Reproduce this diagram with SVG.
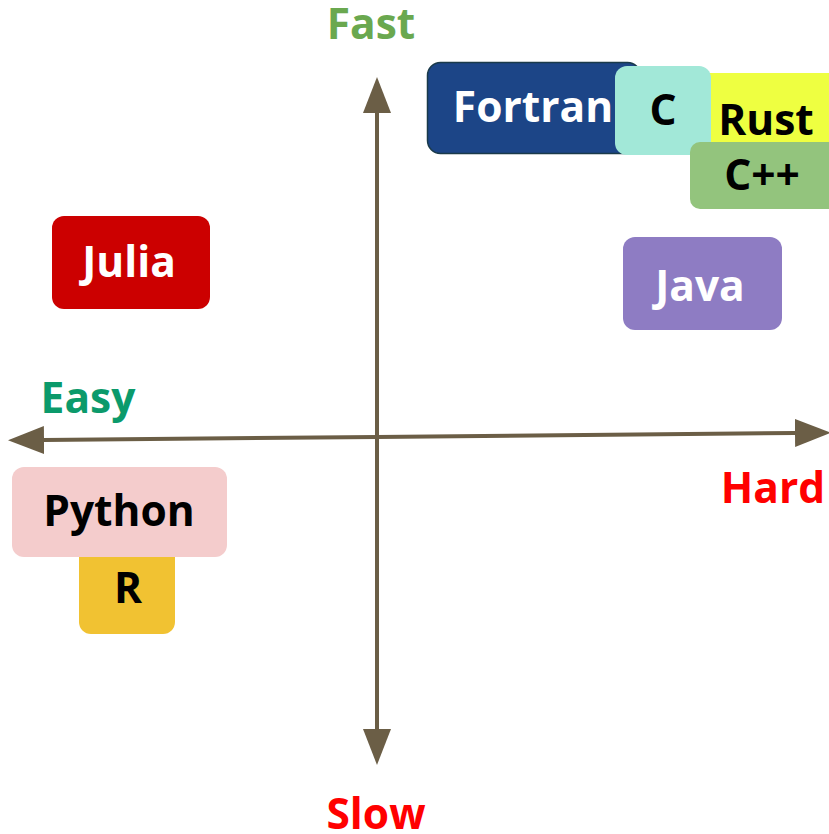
<svg xmlns="http://www.w3.org/2000/svg" width="829" height="834" viewBox="0 0 829 834">
  <style>
    .lbl { font-family: "Open Sans", "Noto Sans", "DejaVu Sans", sans-serif; font-weight: 700; font-size: 42.5px; text-anchor: middle; }
    .axis { stroke: #6b5e46; stroke-width: 4; fill: none; }
    .light { fill: #ffffff; }
    .dark { fill: #000000; }
  </style>
  <defs>
    <marker id="head" viewBox="0 0 36 28" refX="0" refY="14" markerWidth="36" markerHeight="28" markerUnits="userSpaceOnUse" orient="auto">
      <path d="M0,0 L36,14 L0,28 Z" fill="#6b5e46"/>
    </marker>
  </defs>
  <rect width="829" height="834" fill="#ffffff"/>

  <!-- axes -->
  <g id="connectors">
    <line class="axis" x1="377" y1="437" x2="377" y2="113" marker-end="url(#head)"/>
    <line class="axis" x1="377" y1="437" x2="377" y2="729" marker-end="url(#head)"/>
    <line class="axis" x1="377" y1="437" x2="44" y2="440" marker-end="url(#head)"/>
    <line class="axis" x1="377" y1="437" x2="795" y2="433" marker-end="url(#head)"/>
  </g>

  <!-- axis labels -->
  <g id="axis-labels">
    <text class="lbl" x="371" y="39" fill="#6aa84f">Fast</text>
    <text class="lbl" x="376" y="829" fill="#ff0000">Slow</text>
    <text class="lbl" x="88" y="413" fill="#0b9a6b">Easy</text>
    <text class="lbl" x="773" y="503" fill="#ff0000">Hard</text>
  </g>

  <!-- languages -->
  <g id="fortran">
    <rect x="427.5" y="62.5" width="213" height="91" rx="13" fill="#1c4587" stroke="#1a3a4a" stroke-width="1.5"/>
    <text class="lbl light" x="533" y="122">Fortran</text>
  </g>
  <g id="rust">
    <rect x="690" y="73" width="150" height="80" rx="12" fill="#eeff41"/>
    <text class="lbl dark" x="766" y="135">Rust</text>
  </g>
  <g id="c">
    <rect x="615" y="66" width="96" height="89" rx="12" fill="#a2e8d8"/>
    <text class="lbl dark" x="663" y="125">C</text>
  </g>
  <g id="cpp">
    <rect x="690" y="142" width="150" height="67" rx="10" fill="#93c47d"/>
    <text class="lbl dark" x="762" y="190">C++</text>
  </g>
  <g id="julia">
    <rect x="52" y="216" width="158" height="93" rx="12" fill="#cc0000"/>
    <text class="lbl light" x="129" y="277">Julia</text>
  </g>
  <g id="java">
    <rect x="623" y="237" width="159" height="93" rx="12" fill="#8e7cc3"/>
    <text class="lbl light" x="700" y="301">Java</text>
  </g>
  <g id="r">
    <rect x="79" y="540" width="96" height="94" rx="12" fill="#f1c232"/>
    <text class="lbl dark" x="128" y="603">R</text>
  </g>
  <g id="python">
    <rect x="12" y="467" width="215" height="90" rx="12" fill="#f4cccc"/>
    <text class="lbl dark" x="119" y="526">Python</text>
  </g>
</svg>
